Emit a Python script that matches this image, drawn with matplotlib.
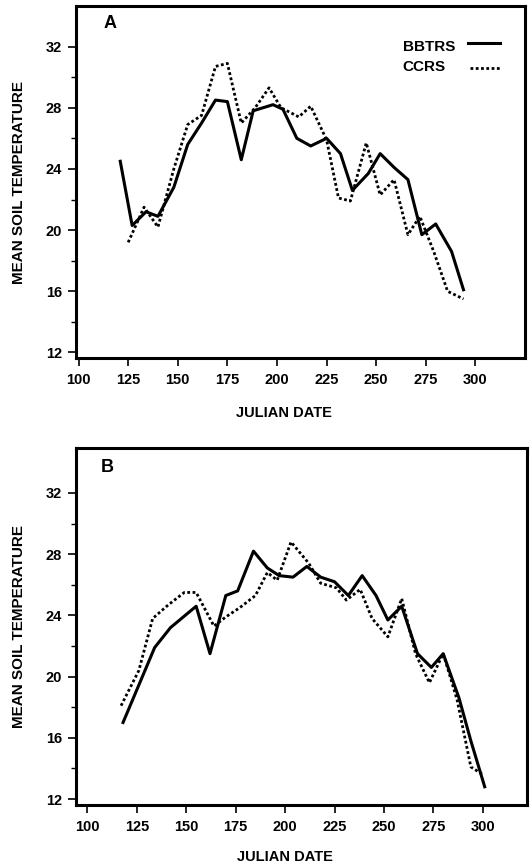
import matplotlib
matplotlib.use("Agg")
import matplotlib.pyplot as plt
from matplotlib.lines import Line2D

plt.rcParams['font.family'] = ['Liberation Sans', 'DejaVu Sans']

# Panel A data
a_bbtrs_day = [121, 127, 134, 140, 148, 155, 162, 169, 175, 182, 188, 198, 203,
               210, 217, 225, 232, 238, 246, 252, 259, 266, 273, 280, 288, 294]
a_bbtrs_temp = [24.5, 20.3, 21.2, 20.9, 22.8, 25.6, 27.0, 28.5, 28.4, 24.6, 27.8, 28.2, 27.9,
                26.0, 25.5, 26.0, 25.0, 22.6, 23.7, 25.0, 24.1, 23.3, 19.7, 20.4, 18.6, 16.1]
a_ccrs_day = [125, 133, 140, 148, 155, 162, 169, 175, 182, 189, 196, 202, 211,
              217, 225, 231, 237, 245, 252, 259, 266, 272, 279, 286, 294]
a_ccrs_temp = [19.2, 21.5, 20.2, 24.0, 26.9, 27.5, 30.7, 30.9, 27.0, 28.0, 29.3, 28.0, 27.4,
               28.1, 25.9, 22.1, 21.9, 25.7, 22.3, 23.3, 19.7, 20.9, 18.6, 16.0, 15.5]

# Panel B data
b_bbtrs_day = [118, 134, 142, 155, 162, 170, 176, 184, 191, 197, 204, 211, 218,
               225, 232, 239, 246, 252, 259, 267, 274, 280, 288, 294, 301]
b_bbtrs_temp = [17.0, 21.9, 23.2, 24.6, 21.5, 25.3, 25.6, 28.2, 27.1, 26.6, 26.5, 27.2, 26.5,
                26.2, 25.3, 26.6, 25.3, 23.7, 24.6, 21.5, 20.6, 21.5, 18.6, 15.8, 12.8]
b_ccrs_day = [117, 126, 133, 141, 149, 155, 164, 170, 177, 185, 191, 196, 203, 212,
              218, 226, 231, 238, 244, 252, 259, 266, 273, 280, 287, 294, 300]
b_ccrs_temp = [18.1, 20.4, 23.8, 24.7, 25.5, 25.5, 23.3, 23.9, 24.5, 25.3, 26.8, 26.3, 28.8, 27.4,
               26.1, 25.8, 25.0, 25.7, 23.8, 22.6, 25.1, 21.5, 19.6, 21.5, 18.5, 14.1, 13.6]

x_ticks = [100, 125, 150, 175, 200, 225, 250, 275, 300]
y_ticks = [12, 16, 20, 24, 28, 32]
y_minor = [14, 18, 22, 26, 30]

fig = plt.figure(figsize=(5.32, 8.67), dpi=100)
W, H = 532, 867


def make_axes(left, right, top, bottom):
    return fig.add_axes([left / W, 1 - bottom / H, (right - left) / W, (bottom - top) / H])


ax_a = make_axes(76, 525, 6, 358)
ax_b = make_axes(76, 527, 448, 805)

dot = (0, (1.0, 0.9))

ax_a.plot(a_bbtrs_day, a_bbtrs_temp, color='black', lw=2.2)
ax_a.plot(a_ccrs_day, a_ccrs_temp, color='black', lw=2.0, linestyle=dot)
ax_b.plot(b_bbtrs_day, b_bbtrs_temp, color='black', lw=2.2)
ax_b.plot(b_ccrs_day, b_ccrs_temp, color='black', lw=2.0, linestyle=dot)

ax_a.set_xlim(98.7, 325)
ax_a.set_ylim(11.64, 34.65)
ax_b.set_xlim(94.2, 322.4)
ax_b.set_ylim(11.61, 34.94)

for ax, letter, lpos, xl_y in [(ax_a, 'A', (0.076, 0.950), -0.135),
                                (ax_b, 'B', (0.069, 0.945), -0.125)]:
    ax.set_xticks(x_ticks)
    ax.set_yticks(y_ticks)
    ax.set_yticks(y_minor, minor=True)
    ax.tick_params(axis='both', which='major', direction='out', length=6, width=1.2,
                   labelsize=10.5, pad=4)
    ax.tick_params(axis='y', which='minor', direction='out', length=3.5, width=1.0)
    ax.tick_params(axis='x', which='major', pad=5)
    for lab in ax.get_xticklabels() + ax.get_yticklabels():
        lab.set_fontweight('bold')
    for sp in ax.spines.values():
        sp.set_linewidth(2.2)
    ax.set_xlabel('JULIAN DATE', fontsize=10.5, fontweight='bold')
    ax.xaxis.set_label_coords(0.463, xl_y)
    ax.set_ylabel('MEAN SOIL TEMPERATURE', fontsize=11, fontweight='bold')
    ax.yaxis.set_label_coords(-0.111, 0.5)
    ax.text(lpos[0], lpos[1], letter, transform=ax.transAxes, fontsize=13,
            fontweight='bold', ha='center', va='center')

# Legend in panel A
ax_a.text(0.728, 0.884, 'BBTRS', transform=ax_a.transAxes, fontsize=11,
          fontweight='bold', ha='left', va='center')
ax_a.add_line(Line2D([0.873, 0.944], [0.894, 0.894], transform=ax_a.transAxes,
                     color='black', lw=2.2))
ax_a.text(0.728, 0.826, 'CCRS', transform=ax_a.transAxes, fontsize=11,
          fontweight='bold', ha='left', va='center')
ax_a.add_line(Line2D([0.878, 0.944], [0.823, 0.823], transform=ax_a.transAxes,
                     color='black', lw=2.0, linestyle=dot))

fig.savefig('out.png', dpi=100)
